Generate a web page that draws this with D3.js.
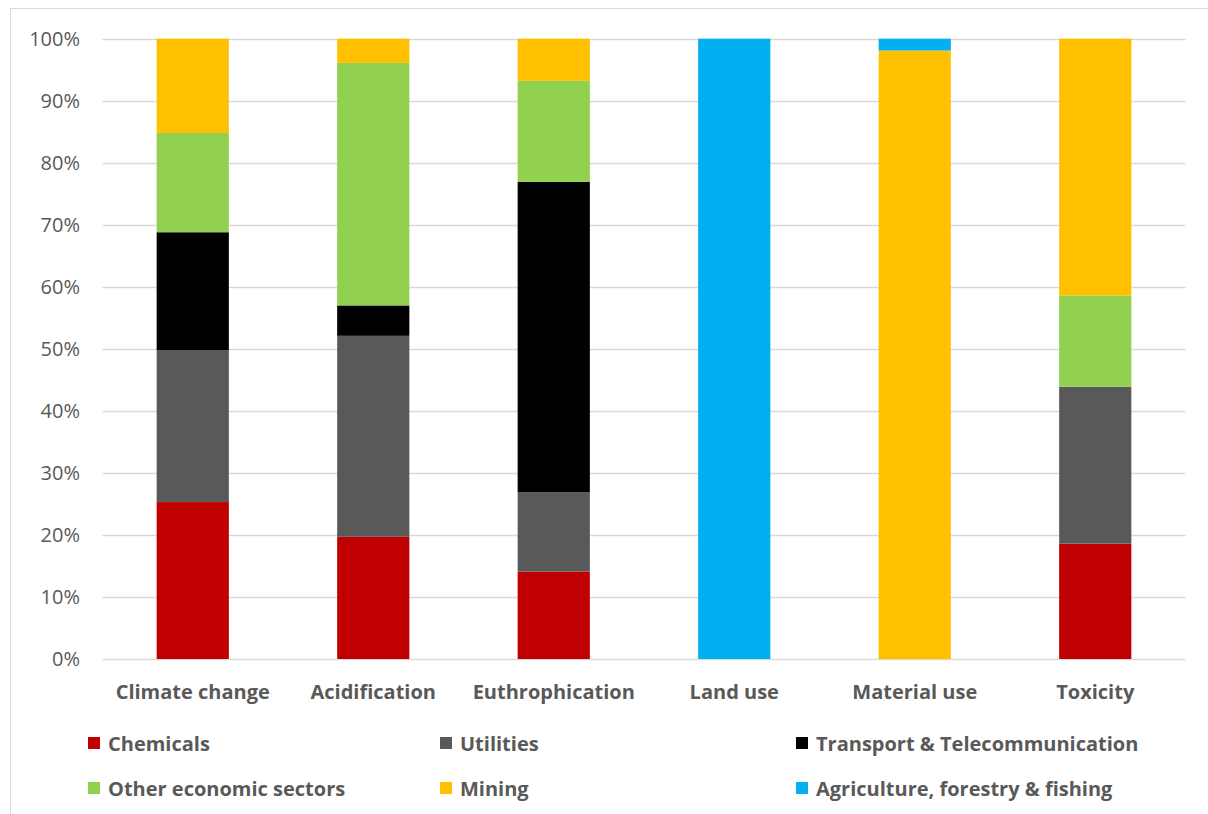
<!DOCTYPE html>
<html><head><meta charset="utf-8">
<script src="https://cdn.jsdelivr.net/npm/d3@7"></script>
<style>body{margin:0;background:#fff;} svg{display:block;font-family:"Open Sans","Noto Sans",sans-serif;}</style>
</head><body>
<svg id="c" width="1208" height="814"></svg>
<script>
const categories = ["Climate change","Acidification","Euthrophication","Land use","Material use","Toxicity"];
const seriesNames = ["Chemicals","Utilities","Transport & Telecommunication","Other economic sectors","Mining","Agriculture, forestry & fishing"];
const seriesColors = ["#C00000","#595959","#000000","#92D050","#FFC000","#00B0F0"];
const chemicals = [25.3, 19.7, 14.1, 0, 0, 18.6];
const utilities = [24.5, 32.4, 12.8, 0, 0, 25.3];
const transport = [19.0, 4.9, 50.0, 0, 0, 0];
const otherSectors = [16.0, 39.1, 16.3, 0, 0, 14.7];
const mining = [15.2, 3.9, 6.8, 0, 98.1, 41.4];
const agriculture = [0, 0, 0, 100, 1.9, 0];
const yTicks = [0,10,20,30,40,50,60,70,80,90,100];

(function(){
const seriesValues = [chemicals, utilities, transport, otherSectors, mining, agriculture];
const rows = categories.map((c,i)=>{const r={cat:c}; seriesNames.forEach((s,j)=>r[s]=seriesValues[j][i]); return r;});
const stacked = d3.stack().keys(seriesNames)(rows);

const svg = d3.select("#c");
svg.append("rect").attr("x",10.5).attr("y",8.5).attr("width",1210).attr("height",820)
  .attr("fill","#fff").attr("stroke","#d9d9d9");

const pLeft=102.5, pRight=1185.5, pTop=38.7, pBottom=659;
const x = d3.scaleBand().domain(categories).range([pLeft,pRight]).paddingInner(0.6).paddingOuter(0.3);
const y = d3.scaleLinear().domain([0,100]).range([pBottom,pTop]);

svg.append("g").selectAll("line").data(yTicks).join("line")
  .attr("x1",pLeft).attr("x2",pRight).attr("y1",d=>Math.round(y(d))+0.5).attr("y2",d=>Math.round(y(d))+0.5)
  .attr("stroke","#d9d9d9").attr("stroke-width",1.3);

svg.append("g").selectAll("text").data(yTicks).join("text")
  .attr("x",80).attr("y",d=>y(d)).attr("dy","0.35em").attr("text-anchor","end")
  .attr("fill","#595959").style("font-size","20px").text(d=>d+"%");

svg.append("g").selectAll("g").data(stacked).join("g")
  .attr("fill",(d,i)=>seriesColors[i])
  .selectAll("rect").data(d=>d.filter(p=>p[1]-p[0]>0)).join("rect")
  .attr("x",d=>x(d.data.cat)).attr("width",x.bandwidth())
  .attr("y",d=>y(d[1])).attr("height",d=>y(d[0])-y(d[1]));

svg.append("g").selectAll("text").data(categories).join("text")
  .attr("x",d=>x(d)+x.bandwidth()/2).attr("y",692).attr("dy","0.35em").attr("text-anchor","middle")
  .attr("fill","#595959").style("font-size","20px").style("font-weight","bold").text(d=>d);

const legX=[96,448,804], legY=[744,789];
const lg = svg.append("g").selectAll("g").data(seriesNames).join("g")
  .attr("transform",(d,i)=>`translate(${legX[i%3]},${legY[Math.floor(i/3)]})`);
lg.append("rect").attr("x",-8).attr("y",-7).attr("width",12).attr("height",12).attr("fill",(d,i)=>seriesColors[i]);
lg.append("text").attr("x",12).attr("dy","0.35em").attr("fill","#595959")
  .style("font-size","20px").style("font-weight","bold").text(d=>d);
})();
</script>
</body></html>
